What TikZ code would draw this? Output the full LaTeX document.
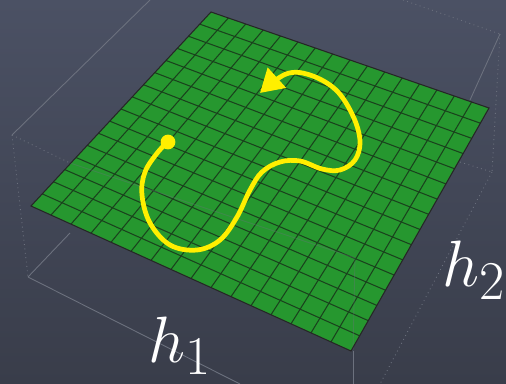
\documentclass[tikz,border=0pt]{standalone}
\usepackage{xcolor}
\usepackage{tikz}
\usetikzlibrary{arrows.meta, calc}
\definecolor{slatetop}{HTML}{4B5164}
\definecolor{slatedark}{HTML}{393D4A}
\definecolor{boxline}{HTML}{6C717E}
\definecolor{field}{HTML}{26972F}
\definecolor{fieldline}{HTML}{1A421D}
\definecolor{trail}{HTML}{FFEF00}

\begin{document}
\begin{tikzpicture}[x=0.02cm, y=-0.02cm,
    every node/.style={text=white, font=\fontsize{24.88}{30}\selectfont, scale=1.5},
    boxedge/.style={boxline, line width=0.5pt},
    boxdot/.style={boxedge, dotted},
    gridline/.style={fieldline, line width=0.6pt},
    trailline/.style={trail, line width=2.7pt}]
  \fill[top color=slatetop, bottom color=slatedark] (0,0) rectangle (506,384);
  \useasboundingbox (0,0) rectangle (506,384);

  \coordinate (T) at (211,12);
  \coordinate (R) at (489,108);
  \coordinate (B) at (351,351);
  \coordinate (L) at (31,206);

  \coordinate (bl) at (12,135);
  \coordinate (bll) at (28,277);
  \coordinate (br) at (500,34);
  \coordinate (brr) at (492,172);
  \draw[boxedge] (bl) -- (150,0);
  \draw[boxdot] (bl) -- (bll);
  \draw[boxedge] (bll) -- (240,384);
  \draw[boxedge] (bll) -- (70,233);
  \draw[boxdot] (bl) -- (70,163);
  \draw[boxdot] (403,0) -- (br);
  \draw[boxdot] (br) -- (brr);
  \draw[boxedge] (br) -- (470,100);
  \draw[boxdot] (460,162) -- (brr);
  \draw[boxdot] (brr) -- (380,384);
  \draw[boxedge] (353,351) -- (353,384);

  \fill[field] (T) -- (R) -- (B) -- (L) -- cycle;
  \foreach \i in {1,...,15} {
    \draw[gridline] ($(T)!\i/16!(R)$) -- ($(L)!\i/16!(B)$);
    \draw[gridline] ($(T)!\i/16!(L)$) -- ($(R)!\i/16!(B)$);
  }
  \draw[boxedge, opacity=0.35] (70,163) -- (355,258) -- (353,351);
  \draw[black!85, line width=0.6pt] (T) -- (R) -- (B) -- (L) -- cycle;

  \coordinate (start) at (168,142);
  \coordinate (tip) at (260,93);
  \draw[trailline, -{Triangle[length=13pt, width=15pt]}]
    plot[smooth, tension=0.6] coordinates {(start) (158,152) (145,172) (142,195)
      (150,223) (170,245) (197,250) (220,240) (237,217) (250,190) (262,172)
      (280,162) (300,161) (322,169) (340,170) (355,160) (360,141) (353,116)
      (336,90) (310,75) (286,74) (tip)};
  \fill[trail] (start) circle[radius=4.2pt];

  \node[anchor=base west, inner sep=0pt] (h1) at (148,362) {$h_1$};
  \node[anchor=base west, inner sep=0pt] (h2) at (442,287) {$h_2$};
\end{tikzpicture}
\end{document}
